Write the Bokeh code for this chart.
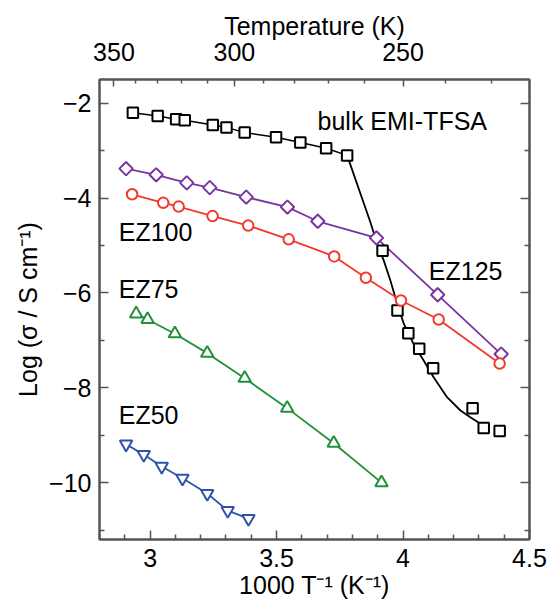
from bokeh.plotting import figure
from bokeh.models import Range1d, LinearAxis, FixedTicker, CustomJSTickFormatter, ColumnDataSource
from bokeh.core.properties import value
from bokeh.embed import file_html
from bokeh.resources import INLINE
import math

# ---- data ----
bulk_x = [2.932, 3.030, 3.103, 3.137, 3.248, 3.302, 3.374, 3.498, 3.594, 3.696, 3.779,
          3.919, 3.978, 4.021, 4.064, 4.119, 4.275, 4.319, 4.382]
bulk_y = [-2.20, -2.27, -2.34, -2.36, -2.46, -2.51, -2.62, -2.72, -2.83, -2.95, -3.10,
          -5.11, -6.37, -6.85, -7.18, -7.59, -8.43, -8.85, -8.91]
# fitted curve drawn for the low-temperature part of bulk EMI-TFSA
bulk_fit_x = [3.779, 3.871, 3.898, 3.924, 3.950, 3.977, 4.003, 4.042, 4.082, 4.121,
              4.174, 4.227, 4.266, 4.306, 4.338]
bulk_fit_y = [-3.10, -4.51, -4.97, -5.32, -5.74, -6.23, -6.65, -7.08, -7.43, -7.78,
              -8.20, -8.48, -8.62, -8.76, -8.84]

ez125_x = [2.905, 3.024, 3.145, 3.236, 3.380, 3.543, 3.663, 3.895, 4.137, 4.388]
ez125_y = [-3.38, -3.51, -3.68, -3.78, -3.98, -4.19, -4.49, -4.84, -6.04, -7.29]

ez100_x = [2.929, 3.052, 3.113, 3.247, 3.388, 3.548, 3.728, 3.853, 3.992, 4.141, 4.382]
ez100_y = [-3.92, -4.10, -4.18, -4.38, -4.58, -4.87, -5.23, -5.68, -6.16, -6.56, -7.49]

ez75_x = [2.945, 2.990, 3.098, 3.226, 3.374, 3.542, 3.726, 3.915]
ez75_y = [-6.44, -6.56, -6.86, -7.27, -7.80, -8.43, -9.17, -10.00]

ez50_x = [2.905, 2.975, 3.046, 3.128, 3.226, 3.307, 3.389]
ez50_y = [-9.19, -9.41, -9.66, -9.91, -10.23, -10.59, -10.76]

x_major = [3.0, 3.5, 4.0, 4.5]
x_minor = [2.8, 2.9, 3.1, 3.2, 3.3, 3.4, 3.6, 3.7, 3.8, 3.9, 4.1, 4.2, 4.3, 4.4]
y_major = [-2, -4, -6, -8, -10]
y_minor = [-3, -5, -7, -9, -11]
temp_major = [350, 300, 250]
temp_minor = [340, 330, 320, 310, 290, 280, 270, 260, 240, 230]

label_text = ["bulk EMI-TFSA", "EZ100", "EZ125", "EZ75", "EZ50"]
label_x = [3.662, 2.876, 4.102, 2.876, 2.876]
label_y = [-2.37, -4.71, -5.54, -5.92, -8.57]

# ---- styling ----
FONT = "Liberation Sans"
FS = "25px"
AX = "#555555"
C_BULK = "black"
C_125 = "#7a34a2"
C_100 = "#f23a2c"
C_75 = "#22903a"
C_50 = "#3152aa"

p = figure(width=548, height=604, x_range=Range1d(2.8, 4.5), y_range=Range1d(-11.2, -1.5),
           output_backend="svg", toolbar_location=None,
           min_border_left=99, min_border_right=19, min_border_top=79, min_border_bottom=65,
           x_axis_label="1000 T⁻¹ (K⁻¹)", y_axis_label="Log (σ / S cm⁻¹)")
p.xgrid.visible = False
p.ygrid.visible = False
p.outline_line_color = AX
p.outline_line_width = 2
p.background_fill_color = "white"
p.border_fill_color = "white"

minus_fmt = "return tick < 0 ? '\\u2212' + Math.abs(tick) : tick.toString();"

def style_axis(ax, tick_in=9, minor_in=5):
    ax.axis_line_color = AX
    ax.axis_line_width = 2
    ax.major_tick_line_color = AX
    ax.minor_tick_line_color = AX
    ax.major_tick_line_width = 1.5
    ax.minor_tick_line_width = 1.5
    ax.major_tick_in = tick_in
    ax.major_tick_out = 0
    ax.minor_tick_in = minor_in
    ax.minor_tick_out = 0
    ax.major_label_text_font = FONT
    ax.major_label_text_font_size = FS
    ax.major_label_text_color = "black"
    ax.axis_label_text_font = FONT
    ax.axis_label_text_font_size = FS
    ax.axis_label_text_font_style = "normal"
    ax.axis_label_text_color = "black"

xa = p.xaxis[0]
xa.ticker = FixedTicker(ticks=x_major, minor_ticks=x_minor)
style_axis(xa)
xa.major_label_standoff = 9
xa.axis_label_standoff = 1

ya = p.yaxis[0]
ya.ticker = FixedTicker(ticks=y_major, minor_ticks=y_minor)
ya.formatter = CustomJSTickFormatter(code=minus_fmt)
style_axis(ya)
ya.major_label_standoff = 8
ya.axis_label_standoff = 4

ra = LinearAxis(ticker=FixedTicker(ticks=y_major, minor_ticks=y_minor),
                formatter=CustomJSTickFormatter(code="return '';"))
style_axis(ra)
ra.major_label_standoff = 0
p.add_layout(ra, "right")

ta = LinearAxis(ticker=FixedTicker(ticks=[1000.0 / t for t in temp_major],
                                   minor_ticks=[1000.0 / t for t in temp_minor]),
                formatter=CustomJSTickFormatter(code="return (1000/tick).toFixed(0);"),
                axis_label="Temperature (K)")
style_axis(ta, tick_in=7, minor_in=4)
ta.major_label_standoff = 19
ta.axis_label_standoff = 0
p.add_layout(ta, "above")

# ---- lines ----
p.line(bulk_x[:11], bulk_y[:11], line_color=C_BULK, line_width=1.5)
p.line(bulk_fit_x, bulk_fit_y, line_color=C_BULK, line_width=1.8)
p.line(ez125_x, ez125_y, line_color=C_125, line_width=1.8)
p.line(ez100_x, ez100_y, line_color=C_100, line_width=1.8)
p.line(ez75_x, ez75_y, line_color=C_75, line_width=1.8)
p.line(ez50_x, ez50_y, line_color=C_50, line_width=1.8)

# ---- markers ----
p.scatter(bulk_x, bulk_y, marker="square", size=10.5, line_color=C_BULK, line_width=2, fill_color="white")
p.scatter(ez125_x, ez125_y, marker="square", angle=math.pi / 4, size=9.5, line_color=C_125,
          line_width=2, fill_color="white")
p.scatter(ez100_x, ez100_y, marker="circle", size=10.5, line_color=C_100, line_width=2, fill_color="white")
p.scatter(ez75_x, ez75_y, marker="triangle", size=12.5, line_color=C_75, line_width=2, fill_color="white")
p.scatter(ez50_x, ez50_y, marker="inverted_triangle", size=12.5, line_color=C_50, line_width=2,
          fill_color="white")

# ---- labels ----
src = ColumnDataSource(dict(x=label_x, y=label_y, t=label_text))
p.text(x="x", y="y", text="t", source=src, text_font=value(FONT), text_font_size=FS,
       text_color="black", text_baseline="middle", text_align="left")

open("out.html", "w").write(file_html(p, INLINE))
